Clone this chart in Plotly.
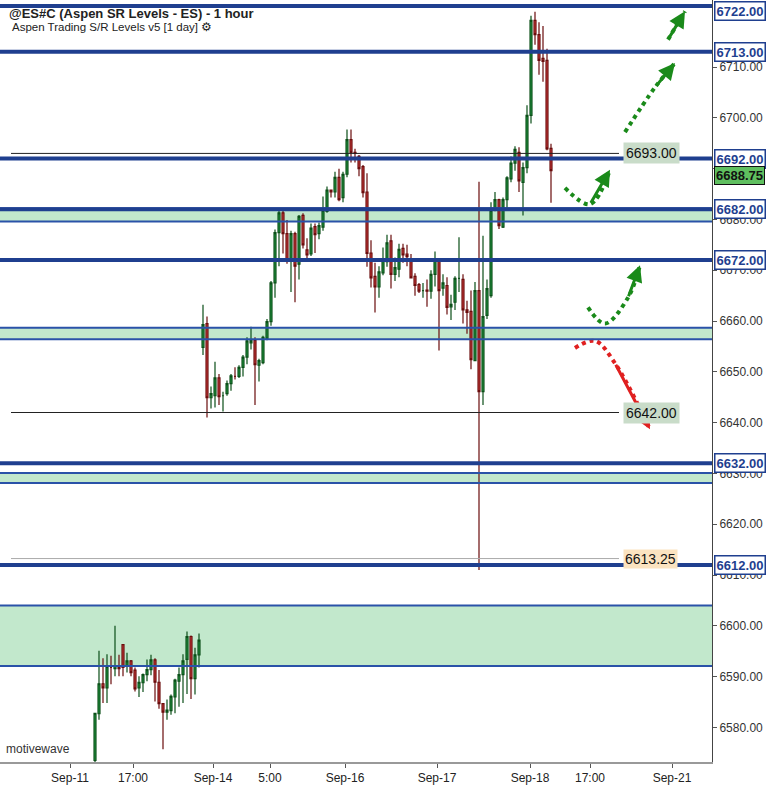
import plotly.graph_objects as go

opens = [6573.5,6582.7,6588.6,6587.8,6591.8,6591.6,6592.0,6596.3,6592.0,6593.1,6591.3,6587.8,6588.8,6590.4,6591.4,6593.3,6588.9,6584.7,6583.0,6583.3,6586.0,6589.1,6590.4,6593.4,6597.9,6589.6,6594.3,
 6654.8,6659.5,6644.9,6645.3,6648.8,6645.3,6645.7,6647.7,6649.1,6649.1,6650.9,6652.9,6655.7,6656.2,6651.3,6651.8,6656.6,6659.9,6667.5,6677.4,6681.3,6677.2,6672.0,6677.2,6671.2,6680.8,6674.0,6673.2,6678.6,6677.2,6678.5,6681.6,6685.8,6685.4,6688.3,6684.3,6688.9,6695.7,6693.2,6692.4,6690.4,6685.4,6673.4,6668.8,6666.7,
 6669.5,6671.7,6675.8,6669.2,6670.2,6674.3,6673.2,6672.2,6668.8,6667.2,6666.0,6666.1,6665.9,6669.2,6672.0,6666.5,6667.0,6662.8,6663.7,6668.4,6668.2,6662.2,6661.9,6652.2,6666.0,6646.1,6661.1,6665.0,6681.8,6683.9,6678.5,6683.9,6688.0,6691.1,6693.2,6687.3,6690.2,6700.5,6719.2,6716.4,6711.7,6711.3,6694.0]
highs = [6582.7,6595.1,6593.6,6594.4,6594.1,6600.0,6594.3,6596.3,6594.7,6593.3,6591.8,6590.1,6590.6,6593.4,6594.3,6593.6,6591.3,6584.7,6585.5,6586.5,6589.6,6591.8,6594.4,6598.9,6598.1,6595.7,6598.5,
 6663.2,6660.9,6647.1,6652.0,6649.6,6646.1,6648.3,6649.6,6650.9,6651.3,6653.3,6656.8,6658.9,6656.8,6652.6,6657.1,6660.4,6667.9,6678.0,6681.8,6681.9,6679.9,6677.8,6677.6,6680.9,6681.2,6676.3,6679.2,6679.2,6679.4,6684.5,6686.5,6685.8,6689.4,6690.0,6689.4,6697.7,6697.7,6693.9,6692.7,6690.7,6689.1,6675.9,6671.5,6670.8,
 6674.5,6677.0,6677.0,6672.5,6675.2,6675.2,6675.0,6673.2,6669.4,6667.5,6667.5,6668.2,6670.0,6673.7,6672.1,6669.2,6668.6,6665.2,6668.8,6676.5,6669.2,6664.0,6666.0,6667.7,6687.4,6676.8,6668.2,6683.4,6685.4,6684.1,6684.3,6688.5,6692.4,6694.4,6694.2,6691.2,6702.5,6720.1,6720.9,6718.8,6718.1,6713.6,6694.9]
lows = [6573.0,6581.5,6584.8,6584.8,6588.5,6590.1,6590.1,6590.1,6590.8,6590.1,6587.1,6586.0,6587.0,6589.1,6590.3,6585.1,6583.7,6575.7,6581.5,6582.5,6582.8,6584.1,6584.8,6586.6,6585.6,6586.5,6591.8,
 6653.3,6641.0,6642.8,6643.0,6643.5,6642.2,6645.3,6646.3,6648.5,6648.8,6649.1,6651.5,6654.4,6643.5,6648.1,6651.5,6656.2,6659.1,6664.6,6670.8,6673.3,6671.3,6665.7,6663.7,6668.2,6674.3,6672.1,6672.8,6673.4,6676.1,6677.8,6681.3,6684.3,6684.3,6683.6,6683.4,6688.3,6691.2,6691.2,6688.5,6684.3,6670.7,6666.6,6661.7,6664.6,
 6669.0,6670.7,6666.4,6667.9,6668.6,6671.5,6670.8,6668.4,6665.0,6665.5,6664.6,6662.8,6664.4,6666.8,6654.2,6665.0,6661.3,6660.2,6662.2,6665.7,6659.5,6657.5,6650.5,6652.2,6611.0,6643.5,6660.4,6664.6,6681.6,6678.1,6678.3,6682.3,6687.3,6689.6,6685.4,6680.8,6689.1,6698.9,6714.4,6708.5,6707.1,6693.6,6683.3]
closes = [6582.8,6588.6,6587.8,6592.0,6591.8,6592.2,6591.6,6591.8,6593.1,6590.8,6587.6,6588.9,6590.4,6591.4,6593.3,6588.9,6584.7,6583.0,6583.4,6586.1,6589.3,6590.4,6593.1,6597.9,6589.6,6594.3,6597.2,
 6659.3,6644.9,6645.7,6648.8,6645.1,6645.3,6647.7,6649.2,6649.1,6650.9,6652.9,6656.1,6656.2,6651.4,6652.2,6656.8,6659.9,6667.5,6677.4,6681.3,6677.2,6672.0,6677.2,6670.8,6680.6,6675.0,6673.0,6678.3,6677.0,6678.8,6681.8,6685.8,6685.4,6688.3,6683.9,6688.9,6695.7,6693.2,6693.0,6690.0,6685.3,6673.3,6668.5,6666.7,6669.7,
 6672.0,6675.4,6669.2,6670.5,6674.1,6673.0,6672.7,6668.5,6667.0,6665.9,6666.0,6665.9,6669.2,6672.1,6666.0,6667.5,6662.7,6663.3,6668.4,6668.4,6662.2,6661.7,6652.4,6666.0,6646.1,6660.9,6666.4,6681.8,6683.9,6678.8,6683.9,6688.2,6691.1,6693.8,6687.6,6690.2,6700.5,6719.2,6716.4,6711.3,6711.1,6693.9,6689.6]
idx = list(range(len(opens)))

tick_pos = [-6.25, 9.5, 29.5, 43.75, 62.5, 85.5, 108.75, 123.75, 144.25]
tick_labels = ["Sep-11", "17:00", "Sep-14", "5:00", "Sep-16", "Sep-17", "Sep-18", "17:00", "Sep-21"]
price_ticks = list(range(6580, 6720, 10))
levels = [6722, 6713, 6692, 6682, 6672, 6632, 6612]
zones = [(6679.6, 6682.2), (6656.4, 6658.7), (6628.1, 6630.1), (6592.1, 6604.0)]
ref_lines = [(6693.0, "6693.00", "#c9dcc9"), (6642.0, "6642.00", "#c9dcc9")]
last_price = 6688.75
low_mark = 6613.25

arrow_paths_g = [
    [(132.5, 6697.2), (140.0, 6706.0), (145.0, 6710.8)],
    [(143.25, 6715.4), (147.5, 6721.0)],
    [(117.5, 6686.2), (123.75, 6683.0), (128.75, 6689.8)],
    [(123.25, 6662.7), (127.5, 6659.5), (133.25, 6664.6), (136.25, 6671.0)],
]
arrow_path_r = [(120.0, 6654.7), (125.0, 6656.1), (130.0, 6651.7), (138.75, 6638.7)]

fig = go.Figure()
BLUE = "#1f3f8f"
for lo, hi in zones:
    fig.add_hrect(y0=lo, y1=hi, fillcolor="#c2e8cc", line_width=0, layer="below")
    for v in (lo, hi):
        fig.add_hline(y=v, line=dict(color="#2a52a8", width=2))
for lv in levels:
    fig.add_hline(y=lv, line=dict(color=BLUE, width=4))
for v, t, c in ref_lines:
    fig.add_shape(type="line", x0=-21, x1=131, y0=v, y1=v, line=dict(color="#222", width=1))
fig.add_shape(type="line", x0=-21, x1=131, y0=low_mark, y1=low_mark, line=dict(color="#aaa", width=1))

fig.add_trace(go.Candlestick(x=idx, open=opens, high=highs, low=lows, close=closes,
    increasing=dict(line=dict(color="#0b4f18", width=1.2), fillcolor="#23a045"),
    decreasing=dict(line=dict(color="#6a0c0c", width=1.2), fillcolor="#e04545"),
    whiskerwidth=0, showlegend=False, hoverinfo="skip"))

for path in arrow_paths_g:
    fig.add_trace(go.Scatter(x=[p[0] for p in path], y=[p[1] for p in path], mode="lines",
        line=dict(color="#1a8a1a", width=4, dash="dot", shape="spline"), showlegend=False, hoverinfo="skip"))
    fig.add_annotation(x=path[-1][0], y=path[-1][1], ax=path[-2][0], ay=path[-2][1], axref="x", ayref="y",
        xref="x", yref="y", showarrow=True, arrowhead=2, arrowsize=1.1, arrowwidth=3, arrowcolor="#1a8a1a", text="")
p = arrow_path_r
fig.add_trace(go.Scatter(x=[q[0] for q in p], y=[q[1] for q in p], mode="lines",
    line=dict(color="#e02020", width=4, dash="dot", shape="spline"), showlegend=False, hoverinfo="skip"))
fig.add_annotation(x=p[-1][0], y=p[-1][1], ax=p[-2][0], ay=p[-2][1], axref="x", ayref="y",
    xref="x", yref="y", showarrow=True, arrowhead=2, arrowsize=1.1, arrowwidth=3, arrowcolor="#e02020", text="")

for lv in levels:
    fig.add_annotation(x=1.003, xref="paper", y=lv, yref="y", text=f"<b>{lv:.2f}</b>", showarrow=False,
        xanchor="left", font=dict(color=BLUE, size=13, family="Liberation Sans"),
        yshift=-5 if lv == max(levels) else 0,
        bgcolor="white", bordercolor=BLUE, borderwidth=1.5, borderpad=1)
for v, t, c in ref_lines:
    fig.add_annotation(x=132, y=v, text=t, showarrow=False, xanchor="left",
        font=dict(color="#111", size=14, family="Liberation Sans"), bgcolor=c, borderpad=2)
fig.add_annotation(x=132, y=low_mark, text=f"{low_mark:.2f}", showarrow=False, xanchor="left",
    font=dict(color="#111", size=14, family="Liberation Sans"), bgcolor="#fbe3c0", borderpad=1)
fig.add_annotation(x=1.003, xref="paper", y=last_price, text=f"<b>{last_price:.2f}</b>", showarrow=False,
    xanchor="left", font=dict(color="#111", size=13, family="Liberation Sans"),
    bgcolor="#5fbf5f", bordercolor="#111", borderwidth=1, borderpad=1)

fig.add_annotation(x=0.01, xref="paper", y=0.995, yref="paper", yanchor="top", xanchor="left",
    text="<b>@ES#C (Aspen SR Levels - ES) - 1 hour</b>", showarrow=False,
    font=dict(size=13, color="#222", family="Liberation Sans"))
fig.add_annotation(x=0.014, xref="paper", y=0.975, yref="paper", yanchor="top", xanchor="left",
    text="Aspen Trading S/R Levels v5 [1 day] ⚙", showarrow=False,
    font=dict(size=11.5, color="#222", family="Liberation Sans"))
fig.add_annotation(x=0.005, xref="paper", y=0.005, yref="paper", yanchor="bottom", xanchor="left",
    text="motivewave", showarrow=False, font=dict(size=12, color="#333", family="Liberation Sans"))

fig.update_layout(width=781, height=785, margin=dict(l=0, r=69, t=0, b=23, autoexpand=False),
    plot_bgcolor="white", paper_bgcolor="white",
    xaxis=dict(range=[-23.75, 154.25], tickvals=tick_pos, ticktext=tick_labels, showgrid=False,
        rangeslider=dict(visible=False), ticks="outside", ticklen=4, tickcolor="#555",
        showline=True, linecolor="#999", linewidth=2, zeroline=False, automargin=False,
        tickfont=dict(size=12, color="#222", family="Liberation Sans")),
    yaxis=dict(range=[6573.2, 6723.2], side="right", tickvals=price_ticks, showgrid=False,
        ticks="outside", ticklen=4, tickcolor="#555", showline=True, linecolor="#444", linewidth=1,
        zeroline=False, automargin=False, tickformat=".2f", tickfont=dict(size=12, color="#333", family="Liberation Sans")),
    font=dict(family="Liberation Sans"))
fig.write_html("out.html", config={"displayModeBar": False},
    post_script="document.body.style.margin='0';document.body.style.overflow='hidden';")
